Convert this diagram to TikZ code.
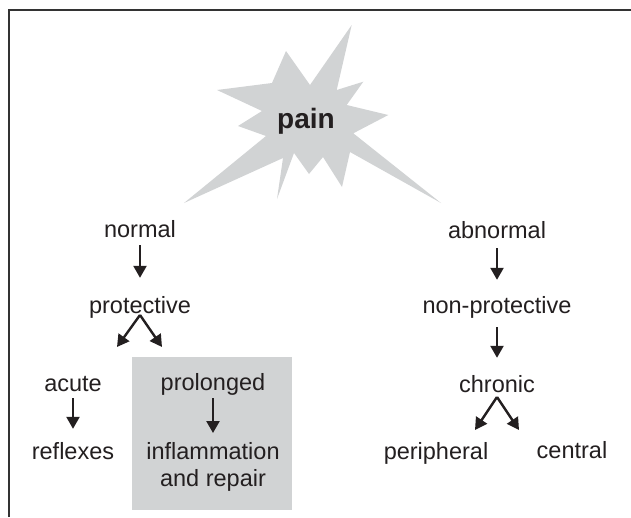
\documentclass[tikz,border=0pt]{standalone}
\usepackage{fontspec}
\setmainfont{Liberation Sans}
\usetikzlibrary{arrows.meta}
\definecolor{ink}{HTML}{231F20}
\definecolor{burst}{HTML}{D1D3D4}
\definecolor{boxgrey}{HTML}{D1D3D4}
\definecolor{frame}{HTML}{333333}
\begin{document}
\begin{tikzpicture}[x=1pt,y=-1pt,
  lbl/.style={font=\fontsize{23.5}{27}\selectfont, text=ink, inner sep=0pt,
              text height=17pt, text depth=5pt, anchor=base},
  lbl2/.style={font=\fontsize{23.5}{27}\selectfont, text=ink, inner sep=0pt,
              align=center, anchor=north},
  arr/.style={draw=ink, line width=2.4pt, -{Triangle[length=12pt,width=13pt]}},
  greybox/.style={fill=boxgrey, draw=none, minimum width=160pt, minimum height=153pt, inner sep=0pt},
]
\useasboundingbox (0,0) rectangle (631,517);
% frame (top and left edges)
\draw[frame, line width=1.6pt] (9,517) -- (9,10) -- (631,10);
% starburst
\fill[burst] (351.7,25) -- (336.7,90) -- (363.3,81.7) -- (346.7,105) -- (388.3,115)
  -- (353.3,133.3) -- (441,203) -- (350,152) -- (342,187) -- (323,157) -- (309,174)
  -- (294,153) -- (277,199) -- (283,158) -- (184,203) -- (266,136) -- (238,126)
  -- (262,111) -- (217,90) -- (272,83) -- (286,51) -- (310,85) -- cycle;
\node[font=\bfseries\fontsize{28}{30}\selectfont, text=ink, inner sep=0pt] (pain) at (306,121) {pain};
% grey box
\node[greybox] (box) at (212,433.5) {};
% left branch
\node[lbl] (normal) at (140,237) {normal};
\node[lbl] (protective) at (140,313) {protective};
\node[lbl] (acute) at (73,391) {acute};
\node[lbl] (reflexes) at (73,459) {reflexes};
\node[lbl] (prolonged) at (213,390) {prolonged};
\node[lbl2] (inflammation) at (213,442) {inflammation\\and repair};
% right branch
\node[lbl] (abnormal) at (497,238) {abnormal};
\node[lbl] (nonprot) at (497,313) {non-protective};
\node[lbl] (chronic) at (497,392) {chronic};
\node[lbl] (peripheral) at (436,459) {peripheral};
\node[lbl] (central) at (572,458) {central};
% fork coordinates
\coordinate (pfork) at (140,315);
\coordinate (pl) at (117,347);
\coordinate (pr) at (162,347);
\coordinate (cfork) at (497,397);
\coordinate (cl) at (475,430);
\coordinate (cr) at (519,430);
% arrows
\draw[arr, shorten <=3pt, shorten >=18pt] (normal.south) -- (protective.north);
\draw[arr] (pfork) -- (pl);
\draw[arr] (pfork) -- (pr);
\draw[arr, shorten <=2pt, shorten >=13pt] (acute.south) -- (reflexes.north);
\draw[arr, shorten <=3pt, shorten >=9pt] (prolonged.south) -- (inflammation.north);
\draw[arr, shorten <=5pt, shorten >=16pt] (abnormal.south) -- (nonprot.north);
\draw[arr, shorten <=9pt, shorten >=17pt] (nonprot.south) -- (chronic.north);
\draw[arr] (cfork) -- (cl);
\draw[arr] (cfork) -- (cr);
\end{tikzpicture}
\end{document}
